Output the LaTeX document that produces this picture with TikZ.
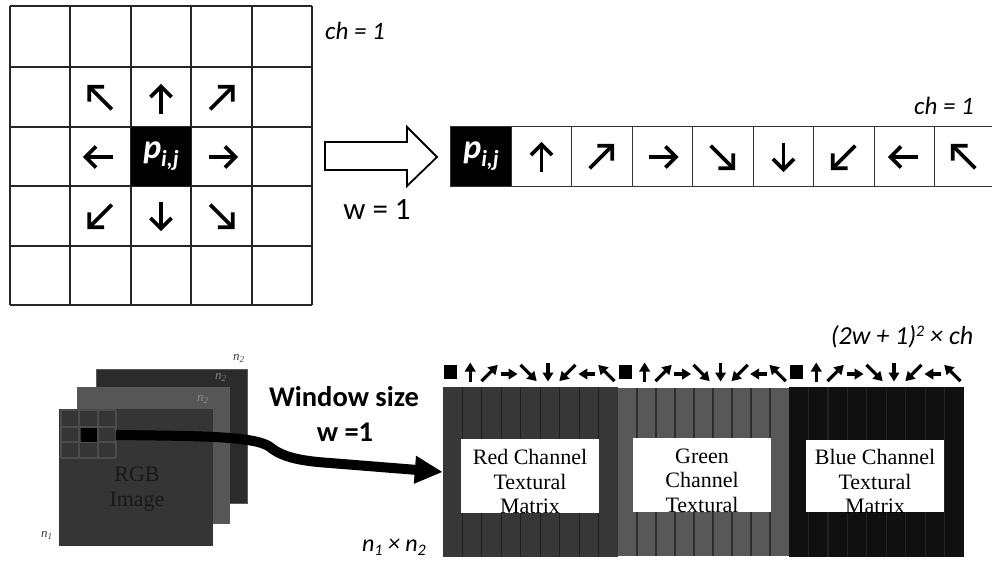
\documentclass[tikz,border=0pt]{standalone}
\usepackage{fontspec}
\setmainfont{Carlito}
\newfontfamily\tmsfont{Liberation Serif}
\usetikzlibrary{arrows.meta}
\definecolor{redc}{HTML}{373737}
\definecolor{redsep}{HTML}{1E1E1E}
\definecolor{greenc}{HTML}{585858}
\definecolor{greensep}{HTML}{2E2E2E}
\definecolor{bluec}{HTML}{101010}
\definecolor{bluesep}{HTML}{242424}
\definecolor{backsq}{HTML}{2B2B2B}
\definecolor{midsq}{HTML}{565656}
\definecolor{frontsq}{HTML}{353535}
\definecolor{rgbtext}{HTML}{191919}
\newcommand\dirarr[4]{%
  \begin{scope}[shift={({#1},{#2})},rotate=#3]
    \draw[garrow] (-#4/2,0) -- (#4/2,0);
    \draw[garrow,line join=miter] (#4/2,0) ++(-135:15) -- (#4/2,0) -- ++(135:15);
  \end{scope}}
\newcommand\marr[4]{%
  \begin{scope}[shift={({#1},{#2})},rotate=#3]
    \draw[marrow] (-#4/2,0) -- (#4/2,0);
  \end{scope}}
\newcommand\pij{{\fontsize{34}{34}\selectfont\bfseries\itshape p}\raisebox{-8pt}{\fontsize{23}{23}\selectfont\bfseries\itshape i,j}}
\begin{document}
\begin{tikzpicture}[x=1pt,y=-1pt,
  garrow/.style={line width=3.8pt},
  marrow/.style={line width=3.2pt,-{Triangle[length=9pt,width=10.5pt]}},
  gridline/.style={line width=1.3pt,draw=black!85},
  cell/.style={draw=black!80,line width=1.3pt,minimum width=60.5pt,minimum height=60pt,inner sep=0pt},
  stacksq/.style={draw=black!65,line width=0.8pt,inner sep=0pt},
  wbox/.style={fill=white,inner sep=0pt,minimum width=138pt},
  boxtxt/.style={font=\tmsfont\fontsize{22}{24.5}\selectfont,align=center,inner sep=0pt},
  lbl/.style={inner sep=0pt}]
\useasboundingbox (0,0) rectangle (992,565);

% ---------- top grid ----------
\foreach \x in {10,70,131,191,252,312} {\draw[gridline] (\x,6) -- (\x,305);}
\foreach \y in {6,67,127,186,246,305} {\draw[gridline] (10,\y) -- (312,\y);}
\node[fill=black,minimum width=60pt,minimum height=59pt,inner sep=0pt,text=white] (pc) at (161,156.5) {\pij};
\dirarr{100.5}{98}{135}{32}
\dirarr{161}{100}{90}{27}
\dirarr{221.5}{98}{45}{32}
\dirarr{99}{157}{180}{27}
\dirarr{222}{157}{0}{27}
\dirarr{100.5}{216}{225}{32}
\dirarr{161}{215}{270}{27}
\dirarr{221.5}{216}{315}{32}
\node[lbl,font=\fontsize{25}{25}\selectfont\itshape] (ch1) at (355,31) {ch = 1};

% ---------- hollow arrow ----------
\draw[line width=1.8pt,line join=miter] (325,142) -- (407,142) -- (407,127) -- (437,157) -- (407,186) -- (407,170) -- (325,170) -- cycle;
\node[lbl,font=\fontsize{31}{31}\selectfont] (w1) at (377,210) {w = 1};

% ---------- strip ----------
\node[cell,fill=black,text=white] (s0) at (481,156.5) {\pij};
\foreach \i/\cx in {1/541.5,2/602,3/662.5,4/723,5/783.5,6/844,7/904.5,8/965}
  {\node[cell] (s\i) at (\cx,156.5) {};}
\dirarr{541.5}{158}{90}{27}
\dirarr{601}{157}{45}{32}
\dirarr{662.5}{157}{0}{27}
\dirarr{722}{157}{315}{32}
\dirarr{783.5}{156}{270}{27}
\dirarr{844}{157}{225}{32}
\dirarr{904}{157}{180}{27}
\dirarr{964}{157}{135}{32}
\node[lbl,font=\fontsize{25}{25}\selectfont\itshape] (ch2) at (944,106) {ch = 1};

% ---------- RGB stack ----------
\node[stacksq,fill=backsq,minimum width=151pt,minimum height=134pt] (back) at (171.5,436) {};
\node[stacksq,fill=midsq,minimum width=152pt,minimum height=136pt] (mid) at (153,455) {};
\node[stacksq,fill=frontsq,draw=black!80,minimum width=153pt,minimum height=136pt] (front) at (135.5,477) {};
\foreach \x in {61,79,98,116} {\draw[draw=black!70,line width=1.6pt] (\x,410) -- (\x,458);}
\foreach \y in {410,427,442,458} {\draw[draw=black!70,line width=1.6pt] (61,\y) -- (116,\y);}
\node[fill=black,minimum width=16pt,minimum height=14pt,inner sep=0pt] (cen) at (88.5,434.5) {};
\node[lbl,font=\tmsfont\fontsize{22}{25}\selectfont,text=rgbtext,align=center] (rgb) at (137,489) {RGB\\Image};
\node[lbl,font=\tmsfont\fontsize{13}{13}\selectfont\itshape,text=black!75] (n2a) at (239,358) {n\textsubscript{2}};
\node[lbl,font=\tmsfont\fontsize{13}{13}\selectfont\itshape,text=black!50] (n2b) at (221,377) {n\textsubscript{2}};
\node[lbl,font=\tmsfont\fontsize{13}{13}\selectfont\itshape,text=black!45] (n2c) at (203,399) {n\textsubscript{2}};
\node[lbl,font=\tmsfont\fontsize{13}{13}\selectfont\itshape,text=black!75] (n1) at (47,535) {n\textsubscript{1}};

% ---------- labels ----------
\node[lbl,font=\fontsize{28.5}{28.5}\selectfont\bfseries] (ws) at (344,397) {Window size};
\node[lbl,font=\fontsize{28.5}{28.5}\selectfont\bfseries] (weq) at (345,432) {w =1};
\node[lbl,font=\fontsize{24}{24}\selectfont\itshape] (n12) at (394,547) {n\raisebox{-4pt}{\fontsize{16}{16}\selectfont 1} × n\raisebox{-4pt}{\fontsize{16}{16}\selectfont 2}};
\node[lbl,font=\fontsize{26}{26}\selectfont\itshape] (dim) at (902,337) {(2w + 1)\raisebox{8pt}{\fontsize{16}{16}\selectfont 2} × ch};

% ---------- matrix ----------
\node[minimum width=521pt,minimum height=170pt,inner sep=0pt] (mat) at (703.5,472) {};
\fill[redc] (443,387) rectangle (618,557);
\foreach \k in {1,...,8} {\draw[redsep,line width=1.2pt] ({443+\k*19.444},387) -- ({443+\k*19.444},557);}
\fill[greenc] (618,388) rectangle (789,556);
\foreach \k in {1,...,8} {\draw[greensep,line width=1.2pt] ({618+\k*19},388) -- ({618+\k*19},556);}
\fill[bluec] (789,387) rectangle (964,557);
\foreach \k in {1,...,8} {\draw[bluesep,line width=1.2pt] ({789+\k*19.444},387) -- ({789+\k*19.444},557);}

\node[wbox,minimum height=74pt] (rb) at (530,476) {};
\node[wbox,minimum height=74pt] (gb) at (702,475) {};
\node[wbox,minimum height=72pt] (bb) at (875,476) {};
\begin{scope}
  \clip (461,439) rectangle (599,513);
  \node[boxtxt] (rt) at (530,481.5) {Red Channel\\Textural\\Matrix};
\end{scope}
\begin{scope}
  \clip (633,438) rectangle (771,512);
  \node[boxtxt] (gt) at (702,480.5) {Green\\Channel\\Textural};
\end{scope}
\begin{scope}
  \clip (806,440) rectangle (944,512);
  \node[boxtxt] (bt) at (875,481.5) {Blue Channel\\Textural\\Matrix};
\end{scope}

% header arrows
\foreach \xs/\cw in {443/19.444,618/19,789/19.444} {
  \fill ({\xs+1},365) rectangle ({\xs+14},379);
  \foreach \k/\a/\l/\yy in {1/90/19/372,2/45/23/373,3/0/17/374,4/-45/23/373,5/-90/19/372,6/-135/23/373,7/180/17/374,8/135/23/373}
    {\marr{\xs+(\k+0.4)*\cw}{\yy}{\a}{\l}}
}

% ---------- curved arrow ----------
\coordinate (cs) at (116,435);
\draw[line width=10pt,-{Triangle[length=28pt,width=26pt]}] (cs) .. controls (200,436) and (255,436) .. (270,447) .. controls (282,457) and (300,461) .. (330,463) -- (mat.west);
\end{tikzpicture}
\end{document}
